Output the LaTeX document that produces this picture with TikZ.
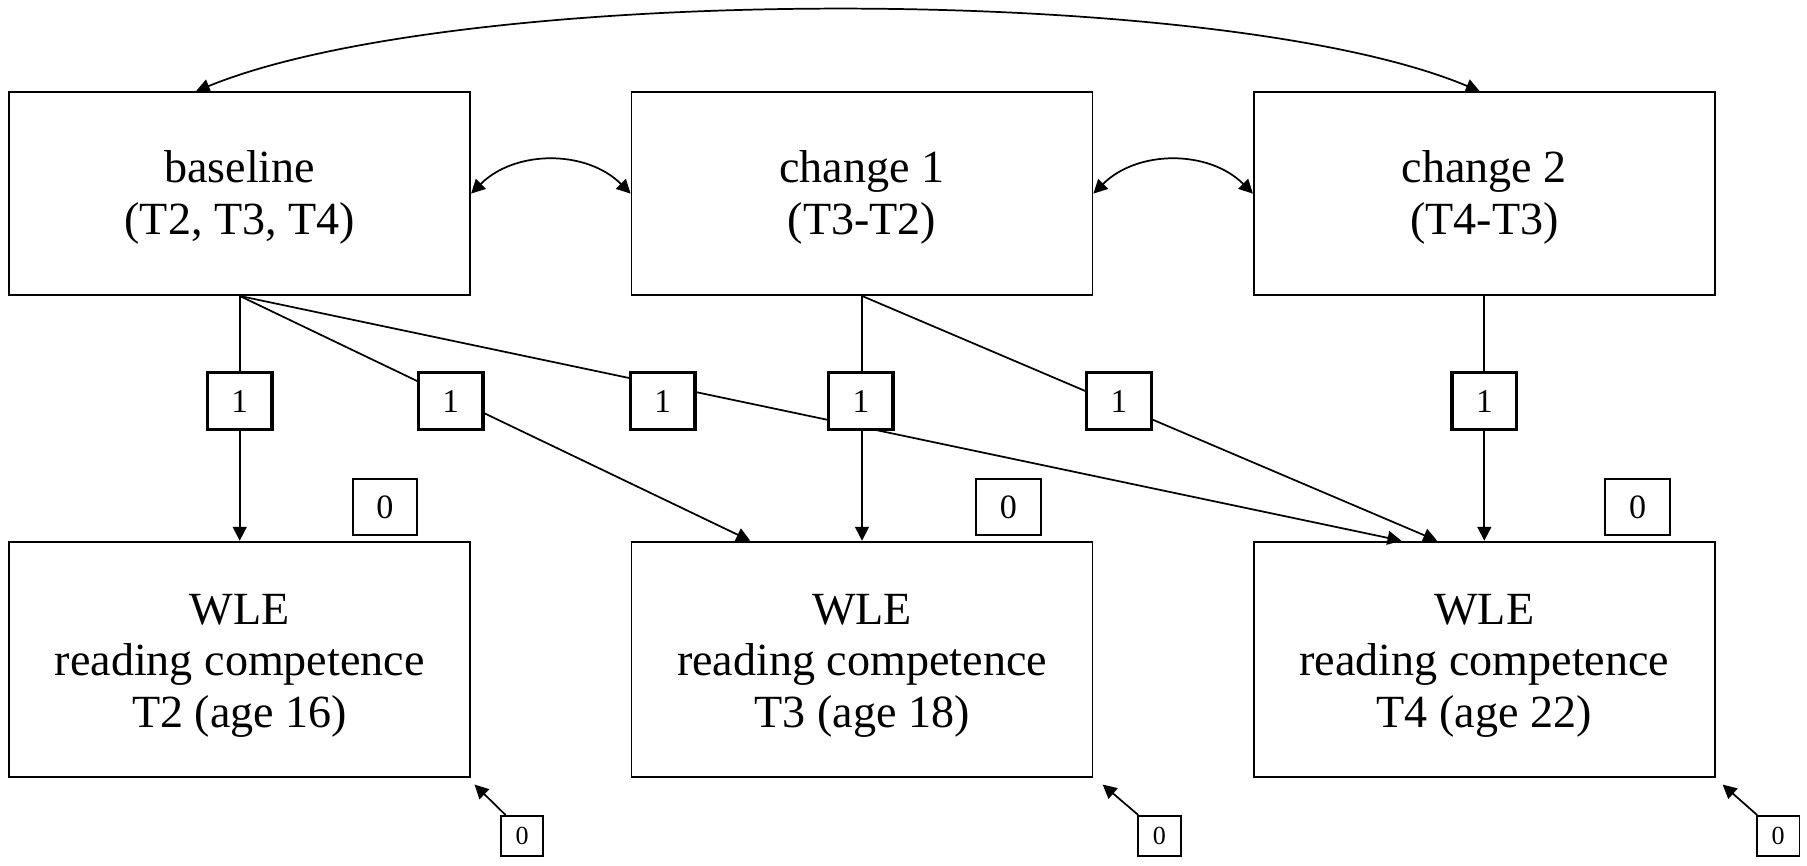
\documentclass[tikz,border=0pt]{standalone}
\usepackage{fontspec}
\setmainfont{Liberation Serif}
\usetikzlibrary{arrows.meta,calc}
\newcommand\mystrutTop{\rule{0pt}{17.4pt}}
\newcommand\mystrutWle{\rule{0pt}{18.8pt}}
\begin{document}
\begin{tikzpicture}[x=0.5pt,y=-0.5pt,
  bigbox/.style={draw,line width=0.8pt,minimum width=200pt,inner sep=0pt,align=center,font=\fontsize{20}{22.5}\selectfont},
  topbox/.style={bigbox,minimum height=88pt},
  wlebox/.style={bigbox,minimum height=102pt},
  loadbox/.style={draw,line width=1.45pt,minimum width=28pt,minimum height=24.5pt,inner sep=0pt,fill=white,font=\fontsize{14.4}{16}\selectfont},
  intbox/.style={draw,line width=0.8pt,minimum width=28pt,minimum height=24.3pt,inner sep=0pt,fill=white,font=\fontsize{14.8}{16}\selectfont},
  resbox/.style={draw,line width=0.8pt,minimum width=18.5pt,minimum height=17.5pt,inner sep=0pt,fill=white,font=\fontsize{11.3}{13}\selectfont},
  tip/.tip={Triangle[length=6pt,width=6pt]},
  arr/.style={line width=0.75pt,-tip},
  darr/.style={line width=0.75pt,tip-tip}
]
\useasboundingbox (0,0) rectangle (1568,751);

% main boxes
\node[topbox] (base) at (208,168) {\mystrutTop baseline\\(T2, T3, T4)};
\node[topbox] (ch1) at (748,168) {\mystrutTop change 1\\(T3-T2)};
\node[topbox] (ch2) at (1288,168) {\mystrutTop change 2\\(T4-T3)};
\node[wlebox] (w2) at (208,572) {\mystrutWle WLE\\reading competence\\T2 (age 16)};
\node[wlebox] (w3) at (748,572) {\mystrutWle WLE\\reading competence\\T3 (age 18)};
\node[wlebox] (w4) at (1288,572) {\mystrutWle WLE\\reading competence\\T4 (age 22)};

% covariances
\draw[darr] ($(base.north)+(-38,0)$) .. controls (400,-15) and (1060,-15) .. ($(ch2.north)+(-4,0)$);
\draw[darr] (base.east) to[bend left=45] (ch1.west);
\draw[darr] (ch1.east) to[bend left=45] (ch2.west);

% loadings
\draw[arr] (base.south) -- (w2.north);
\draw[arr] (base.south) -- ($(w3.north)+(-97,0)$);
\draw[arr] (base.south) -- ($(w4.north)+(-72,0)$);
\draw[arr] (ch1.south) -- (w3.north);
\draw[arr] (ch1.south) -- ($(w4.north)+(-41,0)$);
\draw[arr] (ch2.south) -- (w4.north);

% loading labels
\node[loadbox] (l1) at (208,348) {1};
\node[loadbox] (l2) at (391,348) {1};
\node[loadbox] (l3) at (575,348) {1};
\node[loadbox] (l4) at (747,348) {1};
\node[loadbox] (l5) at (971,348) {1};
\node[loadbox] (l6) at (1288,348) {1};

% intercepts
\node[intbox] (i2) at (334,440) {0};
\node[intbox] (i3) at (875,440) {0};
\node[intbox] (i4) at (1421,440) {0};

% residuals
\node[resbox] (r2) at (453,725.5) {0};
\node[resbox] (r3) at (1006,725.5) {0};
\node[resbox] (r4) at (1543,725.5) {0};
\draw[arr] ($(r2.north west)+(5,0)$) -- ($(w2.south east)+(3,6)$);
\draw[arr] ($(r3.north west)+(1,0)$) -- ($(w3.south east)+(8,6)$);
\draw[arr] ($(r4.north west)+(1,0)$) -- ($(w4.south east)+(6,6)$);
\end{tikzpicture}
\end{document}
